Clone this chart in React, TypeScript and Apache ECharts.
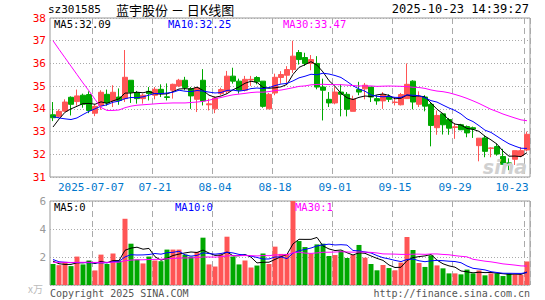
import React, { useEffect, useRef } from 'react';
import * as echarts from 'echarts';

// ---- categories (trading days) ----
const dates = [
  '2025-06-26','2025-06-27','2025-06-30','2025-07-01','2025-07-02','2025-07-03','2025-07-04',
  '2025-07-07','2025-07-08','2025-07-09','2025-07-10','2025-07-11',
  '2025-07-14','2025-07-15','2025-07-16','2025-07-17','2025-07-18',
  '2025-07-21','2025-07-22','2025-07-23','2025-07-24','2025-07-25',
  '2025-07-28','2025-07-29','2025-07-30','2025-07-31','2025-08-01',
  '2025-08-04','2025-08-05','2025-08-06','2025-08-07','2025-08-08',
  '2025-08-11','2025-08-12','2025-08-13','2025-08-14','2025-08-15',
  '2025-08-18','2025-08-19','2025-08-20','2025-08-21','2025-08-22',
  '2025-08-25','2025-08-26','2025-08-27','2025-08-28','2025-08-29',
  '2025-09-01','2025-09-02','2025-09-03','2025-09-04','2025-09-05',
  '2025-09-08','2025-09-09','2025-09-10','2025-09-11','2025-09-12',
  '2025-09-15','2025-09-16','2025-09-17','2025-09-18','2025-09-19',
  '2025-09-22','2025-09-23','2025-09-24','2025-09-25','2025-09-26',
  '2025-09-29','2025-09-30','2025-10-09','2025-10-10',
  '2025-10-13','2025-10-14','2025-10-15','2025-10-16','2025-10-17',
  '2025-10-20','2025-10-21','2025-10-22','2025-10-23',
];
const labelDates = ['2025-07-07','2025-07-21','2025-08-04','2025-08-18','2025-09-01','2025-09-15','2025-09-29','2025-10-23'];

// ---- OHLC ----
const opens = [
  33.74,33.67,33.90,34.51,34.32,34.60,34.63,33.81,34.15,34.64,
  34.35,34.52,34.45,35.26,34.71,34.45,34.77,34.60,34.86,34.53,
  34.82,35.01,35.26,34.89,34.42,35.26,34.18,34.00,34.67,34.77,
  35.44,35.22,34.82,35.27,35.38,35.22,34.00,34.70,35.38,35.48,
  35.73,36.48,36.26,36.00,36.00,34.96,34.42,34.26,34.74,34.64,
  33.89,34.85,34.88,34.96,34.45,34.35,34.53,34.28,34.18,34.45,
  35.22,34.20,34.52,34.20,33.17,33.78,33.53,33.18,33.30,33.22,
  33.17,32.38,32.72,32.26,32.34,31.90,31.62,31.78,31.94,32.19,
];
const closes = [
  33.61,33.89,34.30,34.20,34.57,34.20,33.93,34.11,34.73,34.26,
  34.73,34.37,35.39,34.73,34.45,34.60,34.67,34.86,34.67,34.50,
  35.08,35.26,34.94,34.57,34.93,34.35,34.22,34.48,34.85,35.44,
  35.22,34.82,35.30,35.30,35.19,34.11,34.64,35.39,35.51,35.73,
  36.32,36.17,36.00,36.17,34.96,34.82,34.26,34.74,34.64,33.98,
  34.43,34.74,35.04,34.52,34.35,34.63,34.42,34.30,34.63,35.08,
  34.30,34.52,34.12,33.27,33.71,33.30,33.15,33.21,33.08,32.94,
  33.11,32.71,32.13,32.28,32.01,31.56,31.60,32.16,32.16,32.88,
];
const highs = [
  34.30,33.98,34.42,34.55,34.85,34.67,34.77,34.20,34.82,34.85,
  35.04,34.90,36.59,35.26,34.79,34.67,34.96,34.96,35.08,35.12,
  35.11,35.32,35.41,34.96,34.96,35.75,34.45,34.55,34.93,35.67,
  35.81,35.33,35.45,35.45,35.44,35.22,34.70,35.55,35.66,35.88,
  37.00,36.59,36.47,36.37,36.32,35.33,34.74,34.96,35.08,34.74,
  34.58,35.19,35.14,34.96,34.60,34.74,34.64,34.52,34.70,36.00,
  35.26,34.77,34.60,34.30,33.93,33.78,33.60,33.37,33.34,33.27,
  33.22,32.71,32.83,32.31,32.46,32.24,31.82,32.16,32.31,33.00,
];
const lows = [
  33.46,33.60,33.86,33.71,34.14,34.05,33.81,33.68,33.96,34.14,
  34.08,34.18,34.30,34.26,34.23,34.23,34.37,34.42,34.52,34.37,
  34.45,34.96,34.82,34.00,33.86,34.15,33.93,33.81,34.60,34.67,
  35.11,34.67,34.77,35.01,35.08,34.05,34.00,34.60,35.11,35.11,
  35.58,35.95,35.89,35.70,34.86,33.49,34.08,34.20,33.67,33.67,
  33.89,34.60,34.42,34.30,34.18,34.00,34.30,34.15,34.15,34.45,
  33.98,34.08,33.89,32.35,32.86,32.87,32.86,32.68,33.08,32.75,
  32.72,31.69,31.87,31.87,31.94,31.54,31.30,31.53,31.87,32.13,
];

// ---- volume (x万) ----
const volumes = [
  1.50,1.42,1.65,1.35,2.03,1.47,1.75,1.04,2.17,1.50,
  2.25,1.75,4.73,2.95,1.82,1.54,2.03,1.75,1.70,2.53,
  2.53,2.53,2.17,2.03,2.36,3.38,1.47,1.32,2.17,3.45,
  2.03,1.47,1.75,1.25,1.39,2.25,1.50,2.74,2.22,2.22,
  6.00,3.14,2.71,2.24,2.90,2.95,2.07,2.14,2.43,1.93,
  2.14,2.86,1.95,1.50,1.05,1.43,1.21,1.05,1.60,3.43,
  2.50,1.57,1.29,2.12,1.40,1.19,0.83,0.83,0.76,1.10,
  0.83,1.04,0.69,0.83,0.83,0.64,0.83,0.76,0.73,1.68,
];

// ---- moving-average values at the window start (they depend on days before the window) ----
const ma5Head = [33.20, 33.55, 33.85, 34.00];
const ma10Head = [33.66, 33.60, 33.56, 33.53, 33.60, 33.75, 33.89, 34.00, 34.12];
const ma30Head = [
  37.00,36.62,36.25,35.88,35.51,35.14,34.79,34.42,34.06,33.93,
  33.93,33.95,34.05,34.12,34.16,34.18,34.20,34.22,34.24,34.25,
  34.26,34.26,34.26,34.28,34.30,34.33,34.38,34.45,34.50,
];
const volMa5Head = [1.70, 1.52, 1.47, 1.47];
const volMa10Head = [1.82, 1.66, 1.62, 1.60, 1.60, 1.60, 1.59, 1.58, 1.58];
const volMa30Head = [
  1.62,1.62,1.62,1.61,1.62,1.62,1.62,1.61,1.62,1.62,
  1.63,1.63,1.73,1.78,1.80,1.80,1.82,1.83,1.84,1.87,
  1.90,1.92,1.93,1.94,1.96,2.00,2.00,1.99,2.02,
];

// ---- texts ----
const symbolText = 'sz301585';
const titleText = '蓝宇股份 － 日K线图';
const timeText = '2025-10-23 14:39:27';
const priceMaLabels = ['MA5:32.09', 'MA10:32.25', 'MA30:33.47'];
const volMaLabels = ['MA5:0', 'MA10:0', 'MA30:1'];
const copyrightText = 'Copyright 2025 SINA.COM';
const urlText = 'http://finance.sina.com.cn';

const UP = '#ff5555';
const DOWN = '#00a800';
const MA_COLORS = ['#000000', '#0000ff', '#ff00ff'];
const MONO = '"DejaVu Sans Mono", monospace';

function movingAvg(vals: number[], n: number, head: number[]): number[] {
  return vals.map((_, i) => {
    if (i < n - 1) return head[i];
    let s = 0;
    for (let k = i - n + 1; k <= i; k++) s += vals[k];
    return +(s / n).toFixed(3);
  });
}

export default function App() {
  const ref = useRef<HTMLDivElement>(null);
  useEffect(() => {
    if (!ref.current) return;
    const chart = echarts.init(ref.current, undefined, { renderer: 'svg' });
    const labelIdx = labelDates.map((d) => dates.indexOf(d));
    const isLabel = (i: number) => labelIdx.indexOf(i) >= 0;
    const lastIdx = dates.length - 1;

    const kData = dates.map((_, i) => [opens[i], closes[i], lows[i], highs[i]]);
    const volData = volumes.map((v, i) => ({
      value: v,
      itemStyle: { color: closes[i] >= opens[i] ? UP : DOWN },
    }));
    const ma5 = movingAvg(closes, 5, ma5Head);
    const ma10 = movingAvg(closes, 10, ma10Head);
    const ma30 = movingAvg(closes, 30, ma30Head);
    const vma5 = movingAvg(volumes, 5, volMa5Head);
    const vma10 = movingAvg(volumes, 10, volMa10Head);
    const vma30 = movingAvg(volumes, 30, volMa30Head);

    const splitX = {
      show: true,
      interval: (i: number) => isLabel(i),
      lineStyle: { color: '#aaaaaa', type: [6, 4], width: 1 },
    };
    const lineSeries = (data: number[], color: string, xi: number) => ({
      type: 'line',
      xAxisIndex: xi,
      yAxisIndex: xi,
      data,
      showSymbol: false,
      symbol: 'none',
      lineStyle: { color, width: 1 },
      silent: true,
      z: 3,
    });

    const txt = (text: string, x: number, y: number, fill: string, font: string, align = 'left') => ({
      type: 'text',
      x,
      y,
      silent: true,
      z: 100,
      style: { text, fill, font, align, verticalAlign: 'middle', textAlign: align, textVerticalAlign: 'middle' },
    });

    chart.setOption({
      animation: false,
      backgroundColor: '#ffffff',
      grid: [
        { left: 50, top: 18, width: 480, height: 159, show: true, borderColor: '#999999', borderWidth: 1 },
        { left: 50, top: 201, width: 480, height: 84, show: true, borderColor: '#999999', borderWidth: 1 },
      ],
      xAxis: [
        {
          type: 'category',
          gridIndex: 0,
          data: dates,
          boundaryGap: true,
          axisLine: { show: false },
          axisTick: { show: false },
          axisLabel: {
            interval: (i: number) => isLabel(i),
            formatter: (v: string, i: number) =>
              i === labelIdx[0] ? '{first|' + v + '}' : i === lastIdx ? '{last|' + v.slice(5) + '}' : v.slice(5),
            color: '#0077cc',
            fontFamily: MONO,
            fontSize: 11,
            margin: 5,
            rich: {
              first: { color: '#0077cc', fontFamily: MONO, fontSize: 11, padding: [0, 8, 0, 0] },
              last: { color: '#0077cc', fontFamily: MONO, fontSize: 11, padding: [0, 30, 0, 0] },
            },
          },
          splitLine: splitX,
        },
        {
          type: 'category',
          gridIndex: 1,
          data: dates,
          boundaryGap: true,
          axisLine: { show: false },
          axisTick: { show: false },
          axisLabel: { show: false },
          splitLine: splitX,
        },
      ],
      yAxis: [
        {
          type: 'value',
          gridIndex: 0,
          min: 31,
          max: 38,
          interval: 1,
          axisLine: { show: false },
          axisTick: { show: false },
          axisLabel: { color: '#ff0000', fontFamily: MONO, fontSize: 11, margin: 4 },
          splitLine: { show: true, lineStyle: { color: '#aaaaaa', type: [1, 2], width: 1 } },
        },
        {
          type: 'value',
          gridIndex: 1,
          min: 0,
          max: 6,
          interval: 2,
          axisLine: { show: false },
          axisTick: { show: false },
          axisLabel: {
            color: '#999999',
            fontFamily: MONO,
            fontSize: 11,
            margin: 4,
            formatter: (v: number) => (v === 0 ? '{u|x万}' : String(v)),
            rich: { u: { color: '#bbbbbb', fontSize: 10, fontFamily: '"Noto Sans CJK SC"', padding: [6, 3, 0, 0] } },
          },
          splitLine: { show: true, lineStyle: { color: '#aaaaaa', type: [1, 2], width: 1 } },
        },
      ],
      series: [
        {
          type: 'candlestick',
          xAxisIndex: 0,
          yAxisIndex: 0,
          data: kData,
          barWidth: 5,
          itemStyle: { color: UP, color0: DOWN, borderColor: UP, borderColor0: DOWN, borderWidth: 1 },
          silent: true,
          z: 2,
        },
        lineSeries(ma5, MA_COLORS[0], 0),
        lineSeries(ma10, MA_COLORS[1], 0),
        lineSeries(ma30, MA_COLORS[2], 0),
        {
          type: 'bar',
          xAxisIndex: 1,
          yAxisIndex: 1,
          data: volData,
          barWidth: 5,
          silent: true,
          z: 2,
        },
        lineSeries(vma5, MA_COLORS[0], 1),
        lineSeries(vma10, MA_COLORS[1], 1),
        lineSeries(vma30, MA_COLORS[2], 1),
      ],
      graphic: [
        txt(symbolText, 48, 9, '#000000', '11px ' + MONO),
        txt(titleText, 116, 9, '#000000', '13px "Noto Sans CJK SC"'),
        txt(timeText, 529, 9, '#000000', '12px ' + MONO, 'right'),
        txt(priceMaLabels[0], 54, 24, MA_COLORS[0], '10.5px ' + MONO),
        txt(priceMaLabels[1], 168, 24, MA_COLORS[1], '10.5px ' + MONO),
        txt(priceMaLabels[2], 283, 24, MA_COLORS[2], '10.5px ' + MONO),
        txt(volMaLabels[0], 54, 207, MA_COLORS[0], '10.5px ' + MONO),
        txt(volMaLabels[1], 175, 207, MA_COLORS[1], '10.5px ' + MONO),
        txt(volMaLabels[2], 295, 207, MA_COLORS[2], '10.5px ' + MONO),
        txt(copyrightText, 50, 293, '#555555', '10px ' + MONO),
        txt(urlText, 530, 293, '#555555', '10px ' + MONO, 'right'),
        txt('sina', 527, 167, '#d0d0d0', 'italic bold 19px "DejaVu Sans"', 'right'),
      ],
    });
    return () => chart.dispose();
  }, []);
  return (
    <div
      ref={ref}
      style={{ position: 'fixed', left: 0, top: 0, width: 545, height: 300, background: '#fff' }}
    />
  );
}
